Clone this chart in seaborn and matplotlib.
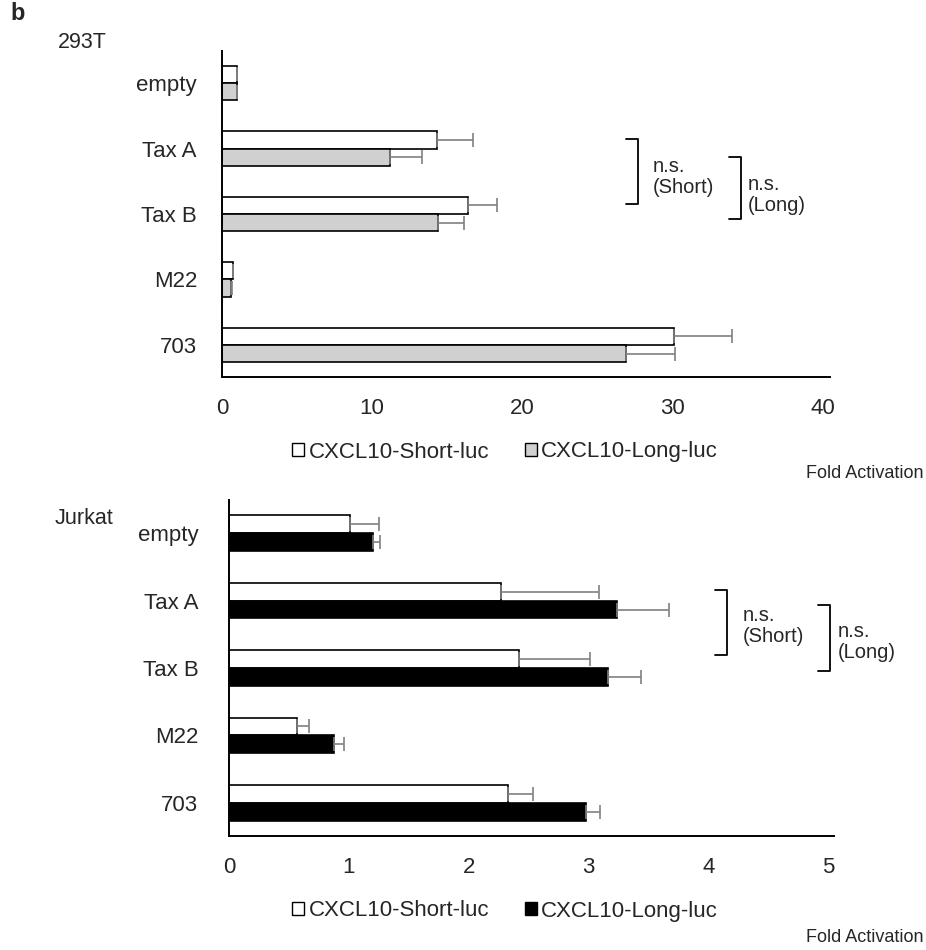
import numpy as np
import pandas as pd
import matplotlib
matplotlib.use("Agg")
import matplotlib.pyplot as plt
from matplotlib.patches import Patch
import seaborn as sns

constructs = ["empty", "Tax A", "Tax B", "M22", "703"]
series = ["CXCL10-Short-luc", "CXCL10-Long-luc"]

# 293T fold activation (mean, + error)
t293_short = [1.0, 14.3, 16.4, 0.7, 30.1]
t293_short_err = [0.0, 2.4, 1.9, 0.05, 3.9]
t293_long = [1.0, 11.2, 14.4, 0.62, 26.9]
t293_long_err = [0.0, 2.1, 1.7, 0.05, 3.3]

# Jurkat fold activation
jur_short = [1.01, 2.27, 2.42, 0.57, 2.33]
jur_short_err = [0.24, 0.82, 0.59, 0.10, 0.21]
jur_long = [1.20, 3.24, 3.16, 0.88, 2.98]
jur_long_err = [0.06, 0.43, 0.28, 0.08, 0.12]

sns.set_style("white")
plt.rcParams["font.family"] = ["Liberation Sans", "DejaVu Sans"]

fig = plt.figure(figsize=(9.26, 9.5), dpi=100)


def panel(rect, short, short_err, long, long_err, long_color, xmax, ticks, ypad):
    ax = fig.add_axes(rect)
    df = pd.DataFrame({
        "construct": constructs * 2,
        "series": [series[0]] * 5 + [series[1]] * 5,
        "value": short + long,
    })
    sns.barplot(data=df, x="value", y="construct", hue="series", orient="h",
                order=constructs, hue_order=series,
                palette=["white", long_color], edgecolor="black",
                linewidth=1.2, width=0.53, errorbar=None, legend=False, ax=ax)
    for cont, vals, errs in zip(ax.containers, [short, long], [short_err, long_err]):
        ys = [b.get_y() + b.get_height() / 2 for b in cont]
        ax.errorbar(vals, ys, xerr=[np.zeros(len(errs)), errs], fmt="none",
                    ecolor="#808080", elinewidth=1.2, capsize=5, capthick=1.2,
                    zorder=1)
    ax.set_xlim(0, xmax)
    ax.set_xticks(ticks)
    ax.set_xlabel("")
    ax.set_ylabel("")
    ax.tick_params(axis="x", labelsize=16, length=0, pad=15)
    ax.tick_params(axis="y", labelsize=16, length=0, pad=ypad)
    ax.spines[["right", "top"]].set_visible(False)
    ax.spines[["left", "bottom"]].set_linewidth(1.4)
    ax.spines[["left", "bottom"]].set_color("black")
    return ax


def bracket(ax, x, tick, y0, y1, label, ty, tx):
    ax.plot([x - tick, x, x, x - tick], [y0, y0, y1, y1], color="black",
            lw=1.3, clip_on=False)
    ax.text(tx, ty, label, fontsize=14.5, va="center", ha="left",
            linespacing=1.15, clip_on=False)


# top panel: 293T
ax1 = panel([222 / 926, 1 - 377 / 950, 608 / 926, 326 / 950],
            t293_short, t293_short_err, t293_long, t293_long_err,
            "#d0d0d0", 40.5, [0, 10, 20, 30, 40], 18)
bracket(ax1, 27.7, 0.8, 0.86, 1.85, "n.s.\n(Short)", 1.43, 28.7)
bracket(ax1, 34.6, 0.8, 1.13, 2.07, "n.s.\n(Long)", 1.71, 35.0)

# bottom panel: Jurkat
ax2 = panel([229 / 926, 1 - 836 / 950, 605 / 926, 336 / 950],
            jur_short, jur_short_err, jur_long, jur_long_err,
            "black", 5.05, [0, 1, 2, 3, 4, 5], 22)
bracket(ax2, 4.16, 0.1, 0.84, 1.80, "n.s.\n(Short)", 1.38, 4.29)
bracket(ax2, 5.02, 0.1, 1.07, 2.04, "n.s.\n(Long)", 1.61, 5.08)

for ax, col, ly in [(ax1, "#d0d0d0", 452), (ax2, "black", 911)]:
    handles = [Patch(facecolor="white", edgecolor="black", linewidth=1),
               Patch(facecolor=col, edgecolor="black", linewidth=1)]
    fig.legend(handles, series, loc="center", bbox_to_anchor=(505 / 926, 1 - ly / 950),
               ncol=2, frameon=False, fontsize=16, handlelength=0.55,
               handleheight=0.55, handletextpad=0.2, columnspacing=1.6)

fig.text(924 / 926, 1 - 473 / 950, "Fold Activation", fontsize=13, ha="right", va="center")
fig.text(924 / 926, 1 - 937 / 950, "Fold Activation", fontsize=13, ha="right", va="center")
fig.text(58 / 926, 1 - 43 / 950, "293T", fontsize=15.5, ha="left", va="center")
fig.text(55 / 926, 1 - 518 / 950, "Jurkat", fontsize=15.5, ha="left", va="center")
fig.text(10 / 926, 1 - 14 / 950, "b", fontsize=17, fontweight="bold", ha="left", va="center")

fig.savefig("out.png", dpi=100)
